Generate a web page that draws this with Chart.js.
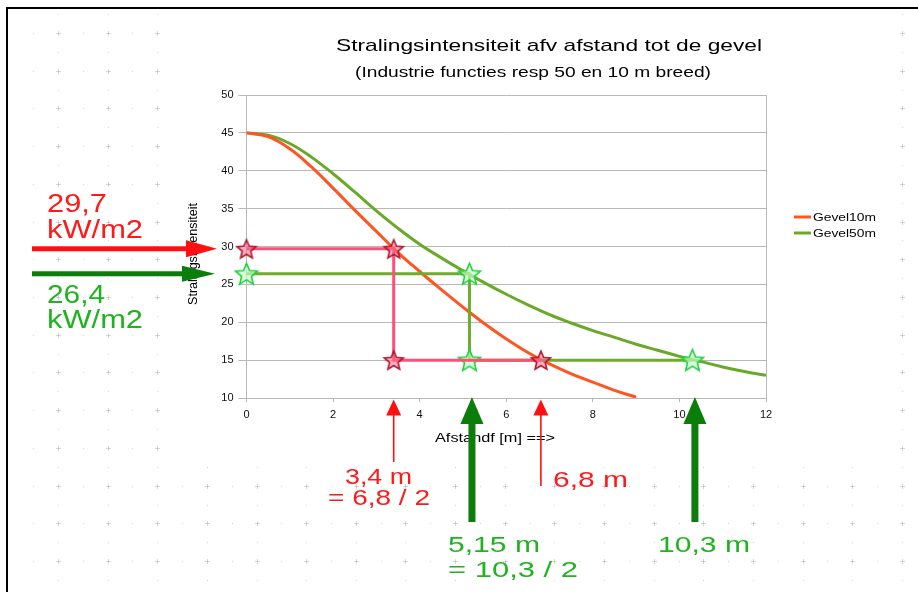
<!DOCTYPE html>
<html>
<head>
<meta charset="utf-8">
<title>Stralingsintensiteit</title>
<script src="https://cdn.jsdelivr.net/npm/chart.js@4.4.1/dist/chart.umd.min.js"></script>
<style>
  html, body { margin: 0; padding: 0; background: #fff; }
  #wrap { width: 918px; height: 592px; }
</style>
</head>
<body>
<div id="wrap"><canvas id="stralingChart" width="918" height="592"></canvas></div>
<script>
// Afstand tot de gevel [m] en stralingsintensiteit [kW/m2]
const afstand10 = [0, 0.5, 1, 1.5, 2, 2.5, 3, 3.5, 4, 4.5, 5, 5.5, 6, 6.5, 7, 7.5, 8, 8.5, 9];
const gevel10 = [45, 44.5, 42.9, 40.5, 37.7, 34.8, 32.0, 29.2, 26.7, 24.3, 22.0, 19.8, 17.8, 16.0, 14.5, 13.2, 12.1, 11.0, 10.1];

const afstand50 = [0, 0.5, 1, 1.5, 2, 2.5, 3, 3.5, 4, 4.5, 5, 5.5, 6, 6.5, 7, 7.5, 8, 8.5, 9, 9.5, 10, 10.5, 11, 11.5, 12];
const gevel50 = [45, 44.7, 43.6, 41.8, 39.6, 37.2, 34.7, 32.4, 30.3, 28.5, 26.8, 25.2, 23.7, 22.3, 21.0, 19.9, 18.9, 18.0, 17.1, 16.3, 15.5, 14.8, 14.1, 13.5, 13.0];

// Afleeslijnen (rood: gevel 10 m, groen: gevel 50 m)
const roodX = [0, 3.4, 3.4, 6.8];
const roodY = [29.7, 29.7, 15, 15];
const groenX = [0, 5.15, 5.15, 10.3];
const groenY = [26.4, 26.4, 15, 15];

const xTicks = [0, 2, 4, 6, 8, 10, 12];
const yTicks = [10, 15, 20, 25, 30, 35, 40, 45, 50];

const titel = 'Stralingsintensiteit afv afstand tot de gevel';
const subtitel = '(Industrie functies resp 50 en 10 m breed)';
const xTitel = 'Afstandf [m] ==>';
const yTitel = 'Stralingsintensiteit';

const FONT = '"Liberation Sans", Arial, sans-serif';

function punten(xs, ys) {
  return xs.map((x, i) => ({ x: x, y: ys[i] }));
}

// ster als pointStyle
function maakSter(rand, vulling, grootte) {
  const c = document.createElement('canvas');
  c.width = grootte + 4;
  c.height = grootte + 4;
  const g = c.getContext('2d');
  const m = c.width / 2;
  const R = grootte / 2, r = R * 0.45;
  g.beginPath();
  for (let i = 0; i < 10; i++) {
    const a = -Math.PI / 2 + i * Math.PI / 5;
    const s = i % 2 ? r : R;
    g.lineTo(m + s * Math.cos(a), m + 1 + s * Math.sin(a));
  }
  g.closePath();
  g.fillStyle = vulling;
  g.fill();
  g.lineWidth = 1.6;
  g.strokeStyle = rand;
  g.stroke();
  return c;
}

// tekst horizontaal uitrekken naar een gegeven breedte
function tekst(g, s, x, y, breedte, grootte, kleur) {
  g.save();
  g.font = grootte + 'px ' + FONT;
  g.fillStyle = kleur;
  g.textBaseline = 'alphabetic';
  g.textAlign = 'left';
  const w = g.measureText(s).width;
  g.translate(x, y);
  g.scale(breedte / w, 1);
  g.fillText(s, 0, 0);
  g.restore();
}

function pijlRechts(g, x0, tip, y, dikte, kopL, kopH, kleur) {
  g.save();
  g.fillStyle = kleur;
  g.fillRect(x0, y - dikte / 2, tip - kopL - x0 + 1, dikte);
  g.beginPath();
  g.moveTo(tip, y);
  g.lineTo(tip - kopL, y - kopH / 2);
  g.lineTo(tip - kopL, y + kopH / 2);
  g.closePath();
  g.fill();
  g.restore();
}

function pijlOmhoog(g, x, tip, bodem, dikte, kopL, kopB, kleur) {
  g.save();
  g.fillStyle = kleur;
  g.fillRect(x - dikte / 2, tip + kopL - 1, dikte, bodem - tip - kopL + 1);
  g.beginPath();
  g.moveTo(x, tip);
  g.lineTo(x - kopB / 2, tip + kopL);
  g.lineTo(x + kopB / 2, tip + kopL);
  g.closePath();
  g.fill();
  g.restore();
}

// achtergrond: wit, stippenraster, zwarte rand links en boven
const achtergrond = {
  id: 'achtergrond',
  beforeDraw(chart) {
    const g = chart.ctx;
    g.save();
    g.fillStyle = '#ffffff';
    g.fillRect(0, 0, chart.width, chart.height);
    const dx = 24.82, dy = 18.86;
    for (let j = -1; 33 + j * dy < chart.height; j++) {
      const y = Math.round(33 + j * dy);
      for (let i = -1; 58 + i * dx < chart.width; i++) {
        const x = Math.round(58 + i * dx);
        if (x > 168 && x < 892 && y > 9 && y < 456) continue;
        const rijMaj = j % 2 === 0, kolMaj = i % 2 === 0;
        if (rijMaj && kolMaj) {
          g.fillStyle = '#d6d6d6';
          g.fillRect(x - 2, y, 5, 1);
          g.fillRect(x, y - 2, 1, 5);
          g.fillStyle = '#bcbcbc';
          g.fillRect(x, y, 1, 1);
        } else if (rijMaj || kolMaj) {
          g.fillStyle = '#d4d4d4';
          g.fillRect(x, y, 1, 1);
        }
      }
    }
    g.fillStyle = '#000000';
    g.fillRect(6, 7, chart.width - 6, 2);
    g.fillRect(6, 7, 2, chart.height - 7);
    g.restore();
  }
};

// titels, legenda, astitels, pijlen en teksten
const annotaties = {
  id: 'annotaties',
  afterDraw(chart) {
    const g = chart.ctx;
    const sx = chart.scales.x, sy = chart.scales.y;

    tekst(g, titel, 336, 51, 426, 17, '#000000');
    tekst(g, subtitel, 355, 77, 356, 14, '#000000');

    // legenda
    const legenda = [chart.data.datasets[2], chart.data.datasets[3]];
    legenda.forEach((ds, i) => {
      const y = 217 + i * 16;
      g.save();
      g.strokeStyle = ds.borderColor;
      g.lineWidth = 3;
      g.beginPath();
      g.moveTo(794, y);
      g.lineTo(811, y);
      g.stroke();
      g.restore();
      tekst(g, ds.label, 813, y + 4, 63, 11, '#000000');
    });

    // y-astitel (verticaal)
    g.save();
    g.translate(197, 254);
    g.rotate(-Math.PI / 2);
    tekst(g, yTitel, -51, 0, 102, 12, '#000000');
    g.restore();

    // x-astitel
    tekst(g, xTitel, 435, 442, 120, 12, '#000000');

    // pijlen links naar de y-as
    pijlRechts(g, 32, 217, sy.getPixelForValue(29.7), 5, 31, 17, '#ff1010');
    pijlRechts(g, 32, 215, sy.getPixelForValue(26.4), 5, 33, 16, '#0b7d0b');

    // pijlen omhoog naar de x-as
    const onder = sy.bottom;
    pijlOmhoog(g, sx.getPixelForValue(3.4), onder + 1.5, 462, 1.6, 16, 15, '#ff1010');
    pijlOmhoog(g, sx.getPixelForValue(6.8), onder + 1.5, 486, 1.6, 16, 15, '#ff1010');
    pijlOmhoog(g, sx.getPixelForValue(5.15) + 2.5, onder - 1, 522, 7, 27, 23, '#0b7d0b');
    pijlOmhoog(g, sx.getPixelForValue(10.3) + 2.5, onder - 1, 522, 7, 27, 23, '#0b7d0b');

    // teksten
    const rood = '#ff1a1a', groen = '#1fb41f';
    tekst(g, '29,7', 47, 212, 60, 25, rood);
    tekst(g, 'kW/m2', 47, 238, 96, 25, rood);
    tekst(g, '26,4', 47, 303, 58, 25, groen);
    tekst(g, 'kW/m2', 47, 328, 96, 25, groen);

    tekst(g, '3,4 m', 345, 484, 67, 22, rood);
    tekst(g, '= 6,8 / 2', 328, 505, 102, 22, rood);
    tekst(g, '6,8 m', 553, 487, 75, 22, rood);

    tekst(g, '5,15 m', 448, 552, 92, 22, groen);
    tekst(g, '= 10,3 / 2', 448, 577, 130, 22, groen);
    tekst(g, '10,3 m', 658, 552, 92, 22, groen);
  }
};

const roodeSter = maakSter('#b0142c', 'rgba(255,110,140,0.55)', 20);
const groeneSter = maakSter('#20d040', 'rgba(200,255,200,0.65)', 23);

const ctx = document.getElementById('stralingChart').getContext('2d');
new Chart(ctx, {
  type: 'line',
  data: {
    datasets: [
      {
        label: 'afleeslijn 10 m',
        data: punten(roodX, roodY),
        borderColor: '#ff4f78',
        borderWidth: 3,
        tension: 0,
        clip: false,
        pointStyle: roodeSter,
        pointRadius: 10
      },
      {
        label: 'afleeslijn 50 m',
        data: punten(groenX, groenY),
        borderColor: '#6fab2c',
        borderWidth: 3,
        tension: 0,
        clip: false,
        pointStyle: groeneSter,
        pointRadius: 11
      },
      {
        label: 'Gevel10m',
        data: punten(afstand10, gevel10),
        borderColor: '#ff5522',
        borderWidth: 3,
        pointRadius: 0,
        tension: 0.4
      },
      {
        label: 'Gevel50m',
        data: punten(afstand50, gevel50),
        borderColor: '#6aa82a',
        borderWidth: 3,
        pointRadius: 0,
        tension: 0.4
      }
    ]
  },
  options: {
    responsive: false,
    animation: false,
    layout: { padding: { left: 186.5, top: 95, right: 152, bottom: 146 } },
    plugins: {
      legend: { display: false },
      tooltip: { enabled: false }
    },
    scales: {
      x: {
        type: 'linear',
        min: 0,
        max: 12,
        afterBuildTicks: s => { s.ticks = xTicks.map(v => ({ value: v })); },
        afterFit: s => { s.height = 48; },
        grid: {
          color: c => (c.tick && c.tick.value === 12 ? '#b8b8b8' : 'rgba(0,0,0,0)'),
          tickColor: '#b8b8b8',
          tickLength: 4
        },
        border: { color: '#b8b8b8' },
        ticks: { color: '#111', padding: 6, font: { family: FONT, size: 11 } }
      },
      y: {
        min: 10,
        max: 50,
        afterBuildTicks: s => { s.ticks = yTicks.map(v => ({ value: v })); },
        afterFit: s => { s.width = 60; },
        grid: { color: '#b8b8b8', tickColor: '#b8b8b8', tickLength: 8 },
        border: { color: '#b8b8b8' },
        ticks: { color: '#111', padding: 5, font: { family: FONT, size: 11 } }
      }
    }
  },
  plugins: [achtergrond, annotaties]
});
</script>
</body>
</html>
